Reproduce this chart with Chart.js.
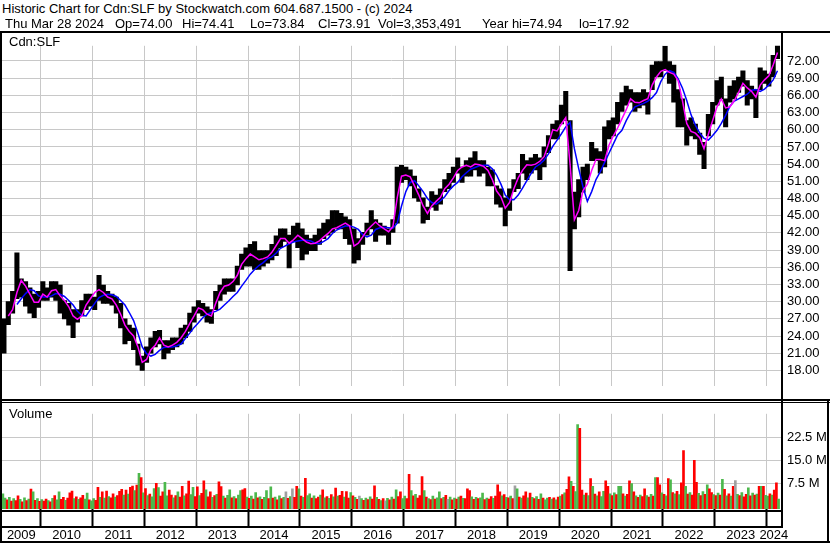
<!DOCTYPE html>
<html>
<head>
<meta charset="utf-8">
<title>Cdn:SLF historic chart</title>
<script src="https://cdn.jsdelivr.net/npm/chart.js@4.4.1/dist/chart.umd.min.js"></script>
<style>
  html, body { margin: 0; padding: 0; background: #fff; }
  #page { position: relative; width: 830px; height: 543px; overflow: hidden;
          font-family: "Liberation Sans", Arial, sans-serif; font-size: 13px; color: #000; }
  .txt { position: absolute; white-space: pre; line-height: 15px; z-index: 3; }
  .ln { position: absolute; background: #000; z-index: 2; }
  #priceChart { position: absolute; left: 0; top: 32px; }
  #volumeChart { position: absolute; left: 0; top: 400px; }
</style>
</head>
<body>
<div id="page">
  <div class="txt" style="left:2px; top:1px;">Historic Chart for Cdn:SLF by Stockwatch.com 604.687.1500 - (c) 2024</div>
  <div class="txt" style="left:5px; top:16px;">Thu Mar 28 2024</div>
  <div class="txt" style="left:115px; top:16px;">Op=74.00</div>
  <div class="txt" style="left:182px; top:16px;">Hi=74.41</div>
  <div class="txt" style="left:250px; top:16px;">Lo=73.84</div>
  <div class="txt" style="left:318px; top:16px;">Cl=73.91</div>
  <div class="txt" style="left:378px; top:16px;">Vol=3,353,491</div>
  <div class="txt" style="left:482px; top:16px;">Year hi=74.94</div>
  <div class="txt" style="left:579px; top:16px;">lo=17.92</div>

  <canvas id="priceChart" width="830" height="368"></canvas>
  <canvas id="volumeChart" width="830" height="143"></canvas>

  <div class="txt" style="left:9px; top:34px;">Cdn:SLF</div>
  <div class="txt" style="left:9px; top:406px;">Volume</div>

  <!-- frame -->
  <div class="ln" style="left:0; top:31px; width:830px; height:2px;"></div>
  <div class="ln" style="left:0; top:31px; width:2px; height:512px;"></div>
  <div class="ln" style="left:781px; top:31px; width:2px; height:497px;"></div>
  <div class="ln" style="left:0; top:399px; width:830px; height:2px;"></div>
  <div class="ln" style="left:0; top:402px; width:830px; height:1px;"></div>
  <div class="ln" style="left:0; top:510px; width:783px; height:2px;"></div>
  <div class="ln" style="left:0; top:526px; width:783px; height:2px;"></div>
  <div class="ln" style="left:0; top:541px; width:830px; height:2px;"></div>
  <div class="ln" style="left:827px; top:399px; width:2px; height:144px;"></div>
</div>

<script>
// ---- data ----
// monthly high / low, April 2009 .. March 2024
const priceHigh = [
  27.0, 30.0, 31.8, 38.5, 34.0, 33.5, 32.4, 31.3, 31.8,                    // 2009
  33.5, 32.4, 33.5, 33.5, 32.9, 30.2, 29.7, 28.6, 28.6, 30.2, 31.3, 31.3,  // 2010
  30.8, 34.6, 32.9, 31.8, 31.3, 30.8, 29.7, 27.0, 25.9, 25.4, 22.6, 20.5,  // 2011
  22.1, 23.7, 24.8, 25.0, 23.2, 23.2, 23.7, 23.7, 25.4, 25.9, 28.0, 29.1,  // 2012
  30.2, 29.7, 29.1, 28.6, 31.8, 32.9, 34.0, 34.0, 34.0, 36.2, 38.3, 39.4,  // 2013
  40.0, 40.5, 38.9, 38.9, 38.9, 40.0, 41.5, 42.7, 42.7, 41.6, 43.2, 43.7,  // 2014
  42.7, 41.6, 41.0, 41.6, 42.7, 43.7, 44.3, 45.9, 45.9, 45.4, 44.8, 44.3,  // 2015
  42.7, 41.0, 42.1, 43.7, 45.9, 44.3, 43.7, 43.2, 42.7, 44.3, 53.5, 53.8,  // 2016
  53.5, 53.0, 51.9, 49.7, 48.1, 46.5, 49.2, 48.6, 49.7, 51.3, 52.4, 53.5,  // 2017
  55.1, 53.5, 54.6, 55.1, 56.2, 54.6, 54.6, 53.5, 53.0, 50.2, 49.7, 48.1,  // 2018
  49.7, 51.3, 52.4, 55.7, 54.6, 55.1, 55.7, 55.1, 57.0, 59.0, 61.0, 61.6,  // 2019
  64.3, 66.7, 61.6, 49.1, 51.3, 53.5, 54.0, 57.8, 56.7, 56.2, 60.5, 61.6,  // 2020
  62.1, 64.8, 66.5, 67.6, 67.0, 66.5, 66.5, 67.0, 66.5, 71.3, 71.9, 71.9,  // 2021
  74.6, 71.9, 71.3, 67.0, 65.4, 61.6, 62.1, 61.0, 59.4, 57.8, 62.7, 64.8,  // 2022
  68.6, 69.2, 65.4, 67.6, 68.6, 69.2, 70.3, 68.6, 67.6, 67.0, 70.8, 70.3,  // 2023
  69.7, 73.0, 74.9                                                         // 2024
];
const priceLow = [
  21.0, 26.0, 28.0, 30.5, 30.8, 29.2, 28.0, 27.2, 29.0,
  30.2, 30.2, 30.8, 30.2, 28.0, 27.0, 25.9, 23.7, 26.4, 27.5, 28.6, 29.2,
  28.6, 30.2, 29.7, 29.7, 29.4, 28.0, 25.4, 22.6, 23.2, 21.6, 18.9, 18.0,
  19.4, 21.0, 22.1, 22.6, 20.0, 21.0, 21.6, 22.1, 22.6, 23.7, 24.8, 26.4,
  28.0, 27.5, 26.4, 26.2, 28.6, 30.2, 31.3, 31.8, 31.8, 32.9, 35.6, 36.2,
  36.2, 35.6, 35.6, 36.2, 36.7, 37.3, 38.0, 39.4, 40.5, 35.9, 40.5, 39.4,
  37.3, 38.3, 38.9, 38.9, 40.0, 41.0, 41.6, 42.1, 42.7, 42.7, 41.0, 40.0,
  36.7, 37.3, 40.0, 41.6, 42.7, 40.5, 41.6, 41.6, 40.0, 42.1, 43.7, 50.8,
  51.3, 50.2, 48.1, 47.5, 43.7, 44.3, 46.5, 45.9, 47.0, 49.2, 49.7, 50.8,
  52.4, 50.8, 51.9, 51.9, 53.0, 51.9, 52.4, 50.2, 50.2, 47.0, 46.5, 43.2,
  45.9, 49.2, 49.7, 52.4, 51.3, 52.4, 53.0, 51.3, 53.5, 56.0, 58.4, 58.4,
  61.0, 61.6, 35.4, 42.7, 44.8, 49.1, 51.3, 54.6, 54.6, 52.4, 53.5, 58.4,
  58.9, 61.0, 63.2, 64.3, 64.8, 63.2, 63.8, 64.3, 62.7, 67.0, 69.2, 69.2,
  70.3, 68.1, 64.8, 60.5, 60.5, 57.3, 58.9, 58.4, 55.7, 53.2, 58.9, 61.0,
  64.3, 65.4, 60.5, 64.8, 65.4, 66.5, 67.6, 64.3, 65.4, 62.1, 67.0, 68.1,
  67.6, 69.2, 72.4
];
// short moving average (magenta), monthly
const maShort = [
  null, 27.5, 28.6, 31.6, 33.7, 32.7, 31.3, 29.9, 29.9,
  31.3, 30.8, 31.9, 32.1, 31.0, 30.2, 29.1, 27.5, 26.9, 27.5, 29.4, 30.5,
  31.6, 32.1, 31.6, 30.8, 30.5, 29.4, 27.8, 25.9, 24.8, 24.0, 22.1, 19.4,
  19.9, 21.6, 22.4, 23.7, 22.4, 22.1, 22.4, 22.9, 23.7, 24.8, 26.2, 27.5,
  28.9, 28.6, 27.8, 27.5, 29.7, 31.6, 32.7, 32.9, 33.5, 34.6, 36.5, 37.5,
  38.3, 37.8, 37.3, 37.5, 37.8, 38.6, 39.8, 41.0, 41.0, 40.2, 40.8, 41.6,
  41.0, 40.4, 40.1, 40.2, 40.6, 41.3, 41.9, 42.7, 42.9, 43.3, 43.7, 43.2,
  39.7, 40.2, 41.3, 42.4, 43.2, 43.9, 43.2, 42.7, 42.2, 43.1, 48.1, 51.9,
  52.1, 51.8, 50.2, 48.6, 46.7, 45.4, 46.7, 47.5, 48.2, 49.7, 50.5, 51.6,
  52.9, 53.5, 53.8, 53.5, 54.0, 53.9, 53.6, 52.9, 51.3, 49.3, 48.3, 46.3,
  47.3, 49.7, 51.6, 52.9, 53.9, 53.8, 54.0, 54.5, 55.3, 57.5, 60.0, 59.8,
  61.0, 62.1, 54.0, 44.3, 45.9, 49.4, 50.5, 52.9, 54.8, 54.8, 54.6, 57.3,
  58.9, 60.3, 61.9, 63.5, 65.4, 64.8, 64.7, 65.1, 65.4, 67.8, 69.2, 70.2,
  70.5, 70.0, 69.7, 68.6, 65.1, 61.1, 59.7, 59.4, 58.6, 56.7, 59.2, 61.6,
  64.0, 65.4, 63.8, 64.0, 65.1, 66.5, 68.1, 67.3, 66.7, 65.7, 67.8, 68.7,
  69.4, 71.3, 73.5
];
// long moving average (blue), monthly
const maLong = [
  null, null, null, 29.5, 30.5, 31.4, 32.1, 31.9, 31.0,
  30.8, 30.8, 31.0, 31.4, 31.3, 30.9, 30.2, 29.4, 28.3, 27.6, 27.5, 28.6,
  29.7, 30.7, 31.1, 31.3, 31.2, 30.9, 30.2, 29.4, 28.1, 26.7, 24.5, 22.1,
  20.9, 20.5, 20.8, 21.5, 22.0, 22.1, 22.1, 22.3, 22.6, 23.6, 24.5, 25.5,
  26.3, 27.2, 27.8, 28.1, 28.3, 28.7, 29.4, 30.1, 30.9, 31.6, 32.7, 33.7,
  34.8, 35.6, 36.3, 36.8, 37.5, 37.8, 38.5, 39.3, 39.7, 40.1, 40.4, 40.6,
  40.7, 40.7, 40.6, 40.2, 40.1, 40.5, 41.0, 41.9, 42.5, 42.9, 43.2, 43.2,
  43.0, 42.6, 41.7, 41.3, 41.6, 42.6, 42.9, 43.0, 42.9, 42.8, 43.7, 46.7,
  49.2, 50.8, 51.1, 50.2, 49.2, 48.0, 47.3, 47.0, 47.6, 48.3, 49.4, 50.2,
  50.8, 51.8, 52.5, 53.1, 53.4, 53.7, 53.8, 53.8, 53.2, 52.1, 50.5, 48.6,
  47.8, 47.8, 48.6, 49.8, 51.1, 52.4, 53.5, 54.0, 54.7, 55.8, 57.1, 58.2,
  59.3, 60.5, 61.3, 56.7, 53.2, 50.0, 47.5, 49.2, 51.3, 52.7, 54.3, 55.9,
  57.5, 59.1, 59.9, 61.6, 63.0, 64.0, 64.3, 64.6, 65.0, 65.6, 66.5, 68.4,
  69.7, 70.3, 70.0, 68.9, 67.3, 65.1, 62.6, 60.8, 59.4, 58.5, 58.2, 59.0,
  59.9, 61.1, 62.5, 64.1, 65.0, 65.4, 65.8, 66.2, 66.9, 67.0, 66.7, 67.1,
  67.8, 68.7, 70.3
];
// volume in millions, two bars per month, April 2009 .. March 2024
const volume = [
  4.2, 2.8, 2.2, 3.0, 1.8, 2.6, 2.0, 3.5, 2.4, 1.6, 2.9, 2.0, 2.5, 5.7, 4.8, 2.1, 2.6, 1.7,
  2.3, 1.8, 2.5, 2.0, 1.6, 2.7, 3.6, 2.2, 4.8, 2.4, 3.0, 2.1, 2.8, 4.5, 5.1, 2.6, 3.2, 2.4, 2.9, 3.7, 2.5, 4.4, 2.2, 1.9,
  2.6, 2.1, 6.3, 3.0, 4.8, 2.8, 5.1, 3.3, 2.9, 4.2, 3.1, 3.6, 5.0, 5.6, 3.8, 5.4, 4.1, 6.3, 6.7, 5.2, 7.0, 10.8, 9.4, 4.5,
  5.9, 3.6, 4.1, 3.2, 5.9, 7.6, 6.2, 3.4, 4.8, 7.9, 3.5, 5.4, 3.8, 2.9, 3.6, 4.8, 3.1, 6.6, 3.5, 4.2, 8.3, 3.9, 6.3, 3.3,
  6.4, 3.6, 4.3, 8.4, 5.5, 3.2, 4.8, 3.0, 3.6, 4.0, 8.1, 6.5, 3.4, 2.8, 3.7, 5.5, 2.9, 3.3, 2.6, 3.8, 5.2, 5.5, 5.9, 3.1,
  2.7, 3.4, 2.5, 4.6, 2.9, 3.2, 2.4, 3.0, 5.2, 2.6, 6.4, 2.8, 3.1, 2.2, 3.5, 2.6, 3.0, 4.8, 2.7, 3.3, 5.8, 3.0, 6.6, 5.8,
  3.4, 3.0, 9.2, 3.6, 4.2, 2.8, 3.5, 2.6, 3.1, 3.8, 5.5, 2.9, 3.3, 2.7, 3.9, 3.2, 6.0, 3.4, 3.7, 5.0, 3.1, 4.9, 2.8, 4.6,
  3.5, 3.0, 2.4, 3.4, 2.6, 2.1, 2.8, 2.3, 3.2, 2.5, 6.8, 3.0, 2.4, 2.0, 2.6, 1.9, 2.7, 2.2, 3.1, 2.5, 5.5, 3.3, 4.8, 2.6,
  3.4, 2.6, 10.5, 5.2, 3.5, 4.0, 2.8, 3.6, 9.8, 5.2, 3.1, 2.6, 2.3, 3.4, 2.5, 2.9, 4.8, 2.6, 3.0, 3.7, 2.4, 3.1, 2.2, 2.8,
  2.5, 3.1, 3.4, 2.7, 2.6, 5.8, 5.2, 3.2, 2.4, 3.0, 2.6, 2.9, 4.4, 2.3, 2.8, 2.5, 3.3, 2.7, 3.4, 7.1, 4.8, 3.5, 3.9, 3.0,
  2.9, 3.4, 2.6, 6.8, 5.8, 3.1, 2.8, 3.5, 4.8, 2.9, 4.4, 3.0, 2.6, 3.3, 2.4, 4.2, 2.8, 2.2, 2.8, 3.0, 2.5, 2.9, 2.2, 3.1,
  3.4, 3.9, 4.5, 5.6, 9.7, 8.2, 6.6, 4.9, 26.6, 25.4, 5.4, 3.8, 4.4, 3.6, 9.1, 6.6, 4.1, 3.5, 4.8, 3.3, 5.0, 8.4, 6.6, 4.2,
  3.6, 4.5, 3.9, 6.6, 6.6, 4.2, 3.4, 4.0, 8.4, 7.5, 4.8, 3.5, 3.0, 3.8, 3.3, 5.8, 3.6, 3.1, 4.0, 3.4, 9.4, 9.4, 7.1, 4.5,
  4.0, 3.5, 9.1, 8.7, 4.6, 4.2, 5.0, 3.9, 7.7, 18.2, 6.6, 4.1, 4.6, 3.8, 15.0, 7.9, 4.3, 3.6, 4.9, 4.0, 7.1, 5.8, 4.6, 3.9,
  3.6, 4.4, 3.8, 8.9, 5.6, 3.5, 4.2, 3.4, 6.6, 8.5, 4.0, 3.6, 4.6, 3.2, 4.0, 6.1, 3.5, 4.4, 3.8, 4.1, 6.6, 6.6, 6.6, 3.7,
  3.4, 4.2, 3.8, 5.4, 7.7, 2.5
];
// g = up day, r = down day, n = unchanged
const volumeDir = (
  'ggrgrgrrgrgrgrgrgr' +
  'grrgrgrggrrgrrrgrgrrggrg' +
  'grrgrgrgrrgrrrgrgrrgrgrg' +
  'rgrggrgrrggrrgrgrrgrrggr' +
  'rgrrgrrgrgrrgrggrgrggrrg' +
  'rgrgrgrggrgrgrgrgnrgnrrg' +
  'rgrggrgrrgrgrgrgrgrrgrrg' +
  'rgrngrgrgrrgrgrngrgrgrrg' +
  'grrgrgrrrgrgrgrggrgrngrg' +
  'rgrgrrrgrgrggrgrrgrrrgrg' +
  'rgrngrgrrgrgrgrgrggrgrgr' +
  'grgrrgrggrrgrgrgrgrggrrg' +
  'rgrggrgrrgrgrgrrgrgrgrrg' +
  'rgrgrgrgrrgrgrrrgrgrgrrg' +
  'rgrgrgrgrngrgrrgrgrgrgrg' +
  'grgrrg'
).split('');

const years = [2009, 2010, 2011, 2012, 2013, 2014, 2015, 2016, 2017, 2018, 2019, 2020, 2021, 2022, 2023, 2024];
const priceTicks = [18, 21, 24, 27, 30, 33, 36, 39, 42, 45, 48, 51, 54, 57, 60, 63, 66, 69, 72];
const volumeTicks = [7.5, 15, 22.5];

// ---- layout ----
const firstMonth = 2009 + 3 / 12;   // April 2009
const xMin = 2009.254, xMax = 2024.276;
const fontFamily = '"Liberation Sans", Arial, sans-serif';
const gridColor = '#c8c8c8';
const dirColors = { g: '#4cb84c', r: '#ff0000', n: '#a0a0a0' };

const monthX = priceHigh.map((_, i) => firstMonth + (i + 0.5) / 12);
const halfX = volume.map((_, i) => firstMonth + (i + 0.5) / 24);
const yearStarts = years.slice(1);
const yearCenters = years.map(y => (Math.max(y, xMin) + Math.min(y + 1, xMax)) / 2);

function fixedTicks(values) {
    return axis => { axis.ticks = values.map(v => ({ value: v })); };
}

// ---- price panel ----
new Chart(document.getElementById('priceChart'), {
    type: 'bar',
    data: {
        datasets: [
            {
                type: 'line',
                data: monthX.map((x, i) => ({ x: x, y: maShort[i] })),
                borderColor: '#ff00ff',
                borderWidth: 1.5,
                pointRadius: 0,
                order: 1
            },
            {
                type: 'line',
                data: monthX.map((x, i) => ({ x: x, y: maLong[i] })),
                borderColor: '#0000ff',
                borderWidth: 1.5,
                pointRadius: 0,
                order: 2
            },
            {
                type: 'bar',
                data: monthX.map((x, i) => ({ x: x, y: [priceLow[i], priceHigh[i]] })),
                backgroundColor: '#000',
                barThickness: 4.4,
                order: 3
            }
        ]
    },
    options: {
        responsive: false,
        animation: false,
        events: [],
        layout: { padding: { left: 2, top: 1, right: 0, bottom: 1 } },
        plugins: { legend: { display: false }, tooltip: { enabled: false } },
        scales: {
            x: {
                type: 'linear', min: xMin, max: xMax, offset: false,
                afterBuildTicks: fixedTicks(yearStarts),
                afterFit: s => { s.height = 0; },
                ticks: { display: false },
                grid: { color: gridColor, drawTicks: false, offset: false },
                border: { display: false }
            },
            y: {
                position: 'right', min: 15.24, max: 74.65,
                afterBuildTicks: fixedTicks(priceTicks),
                afterFit: s => { s.width = 49; },
                ticks: {
                    padding: 6, color: '#000',
                    font: { family: fontFamily, size: 13 },
                    callback: v => v.toFixed(2)
                },
                grid: { color: gridColor, drawTicks: false },
                border: { display: false }
            }
        }
    }
});

// ---- volume panel ----
new Chart(document.getElementById('volumeChart'), {
    type: 'bar',
    data: {
        datasets: [{
            data: halfX.map((x, i) => ({ x: x, y: volume[i] })),
            backgroundColor: volumeDir.map(d => dirColors[d]),
            barThickness: 2,
            base: -0.75
        }]
    },
    options: {
        responsive: false,
        animation: false,
        events: [],
        layout: { padding: { left: 2, top: 2, right: 0, bottom: 0 } },
        plugins: { legend: { display: false }, tooltip: { enabled: false } },
        scales: {
            x: {
                type: 'linear', min: xMin, max: xMax, offset: false, weight: 0,
                afterBuildTicks: fixedTicks(yearStarts),
                afterFit: s => { s.height = 18; },
                ticks: { display: false },
                grid: { color: gridColor, offset: false, drawTicks: true, tickLength: 17, tickColor: '#000', tickWidth: 2 },
                border: { display: false }
            },
            years: {
                type: 'linear', position: 'bottom', min: xMin, max: xMax, offset: false, weight: 1,
                afterBuildTicks: fixedTicks(yearCenters),
                afterFit: s => { s.height = 16; },
                ticks: {
                    autoSkip: false, maxRotation: 0, padding: 1, color: '#000',
                    font: { family: fontFamily, size: 13 },
                    callback: v => String(Math.floor(v))
                },
                grid: { display: false, drawTicks: false },
                border: { display: false }
            },
            y: {
                position: 'right', min: -0.75, max: 30.12,
                afterBuildTicks: fixedTicks(volumeTicks),
                afterFit: s => { s.width = 49; },
                ticks: {
                    padding: 6, color: '#000',
                    font: { family: fontFamily, size: 13 },
                    callback: v => v.toFixed(1) + ' M'
                },
                grid: { color: gridColor, drawTicks: false },
                border: { display: false }
            }
        }
    }
});
</script>
</body>
</html>
